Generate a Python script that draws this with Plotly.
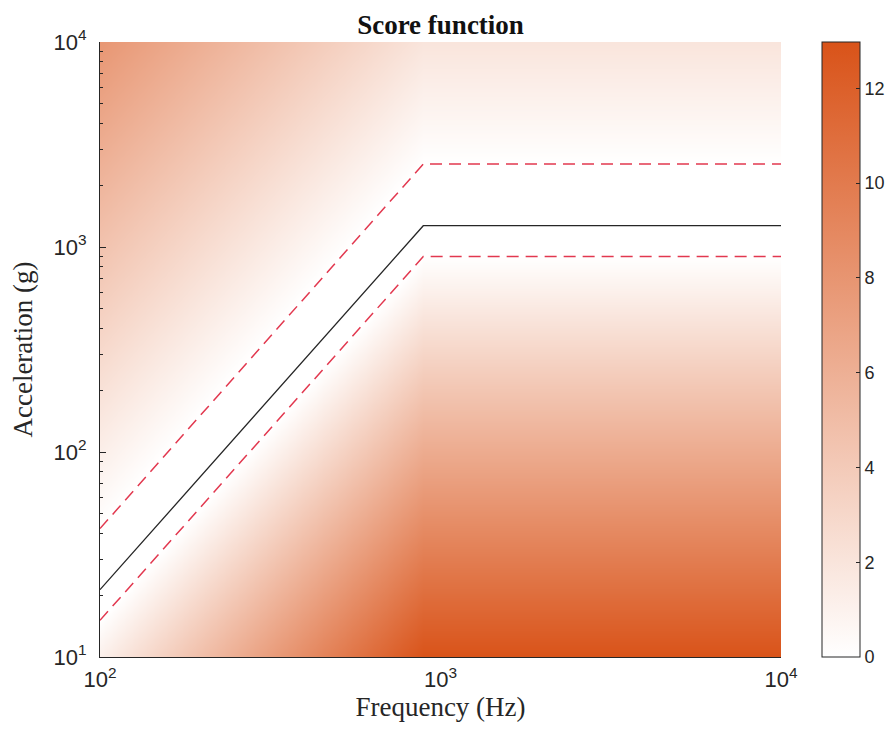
import numpy as np
import plotly.graph_objects as go

# ---- data ----
LINE_FREQ = [100, 890, 10000]          # Hz, reference curve breakpoints
LINE_ACC = [21.3, 1270, 1270]          # g, reference curve (black)
UPPER_ACC = [42.3, 2540, 2540]         # g, upper tolerance (red dashed)
LOWER_ACC = [15.1, 898, 898]           # g, lower tolerance (red dashed)
W_ABOVE = 1.0                          # score per octave above upper tolerance
W_BELOW = 2.0                          # score per octave below lower tolerance
X_TICKS = [100, 1000, 10000]
X_TICK_TEXT = ["10<sup>2</sup>", "10<sup>3</sup>", "10<sup>4</sup>"]
Y_TICKS = [10, 100, 1000, 10000]
Y_TICK_TEXT = ["10<sup>1</sup>", "10<sup>2</sup>", "10<sup>3</sup>", "10<sup>4</sup>"]
CBAR_TICKS = [0, 2, 4, 6, 8, 10, 12]

# ---- score grid (derived from the tolerance curves) ----
NX, NY = 260, 260
fx = np.logspace(2, 4, NX)
ay = np.logspace(1, 4, NY)
lf = np.log10(fx)
up = np.interp(lf, np.log10(LINE_FREQ), np.log10(UPPER_ACC))
lo = np.interp(lf, np.log10(LINE_FREQ), np.log10(LOWER_ACC))
LA = np.log10(ay)[:, None]
above = np.clip((LA - up[None, :]) / np.log10(2), 0, None) * W_ABOVE
below = np.clip((lo[None, :] - LA) / np.log10(2), 0, None) * W_BELOW
score = above + below

serif = "Liberation Serif"
sans = "Liberation Sans"
axcol = "#262626"

fig = go.Figure()
fig.add_trace(go.Heatmap(
    x=fx, y=ay, z=score, zsmooth="best",
    colorscale=[[0, "#FFFFFF"], [1, "#D95319"]],
    zmin=0, zmax=float(score.max()),
    colorbar=dict(
        x=1.06, xanchor="left", xref="paper", y=0.5, yanchor="middle",
        len=1, lenmode="fraction", thickness=38, ypad=0, xpad=0,
        outlinewidth=1, outlinecolor=axcol,
        tickmode="array", tickvals=CBAR_TICKS,
        ticks="inside", ticklen=4, tickcolor=axcol,
        tickfont=dict(family=sans, size=18, color=axcol),
    ),
    hoverinfo="skip",
))
fig.add_trace(go.Scatter(x=LINE_FREQ, y=UPPER_ACC, mode="lines",
                         line=dict(color="#E2384F", width=1.5, dash="12px,7px"),
                         showlegend=False))
fig.add_trace(go.Scatter(x=LINE_FREQ, y=LOWER_ACC, mode="lines",
                         line=dict(color="#E2384F", width=1.5, dash="12px,7px"),
                         showlegend=False))
fig.add_trace(go.Scatter(x=LINE_FREQ, y=LINE_ACC, mode="lines",
                         line=dict(color="#262626", width=1.3),
                         showlegend=False))

# page body has an 8px margin: figure is sized/offset to fit the window
fig.update_layout(
    width=879, height=722,
    margin=dict(l=92, r=106, t=34, b=73, autoexpand=False),
    paper_bgcolor="white", plot_bgcolor="white",
    title=dict(text="<b>Score function</b>", x=0.5, xref="paper",
               y=1, yref="paper", yanchor="bottom", pad=dict(b=8),
               font=dict(family=serif, size=27, color="#111111")),
    showlegend=False,
)
fig.update_xaxes(
    type="log", range=[2, 4], tickmode="array", tickvals=X_TICKS, ticktext=X_TICK_TEXT,
    automargin=False,
    showgrid=False, zeroline=False, showline=True, linecolor=axcol, linewidth=1,
    ticks="",
    tickfont=dict(family=sans, size=22, color=axcol),
    ticklabelstandoff=3,
    title=dict(text="Frequency (Hz)", font=dict(family=serif, size=27, color=axcol), standoff=4),
)
fig.update_yaxes(
    type="log", range=[1, 4], tickmode="array", tickvals=Y_TICKS, ticktext=Y_TICK_TEXT,
    automargin=False,
    showgrid=False, zeroline=False, showline=True, linecolor=axcol, linewidth=1,
    ticks="inside", ticklen=6, tickcolor=axcol,
    minor=dict(ticks="inside", ticklen=3, tickcolor=axcol, dtick="D1"),
    tickfont=dict(family=sans, size=22, color=axcol),
    ticklabelstandoff=8,
    title=dict(text="Acceleration (g)", font=dict(family=serif, size=27, color=axcol), standoff=24),
)
fig.write_html("out.html")
